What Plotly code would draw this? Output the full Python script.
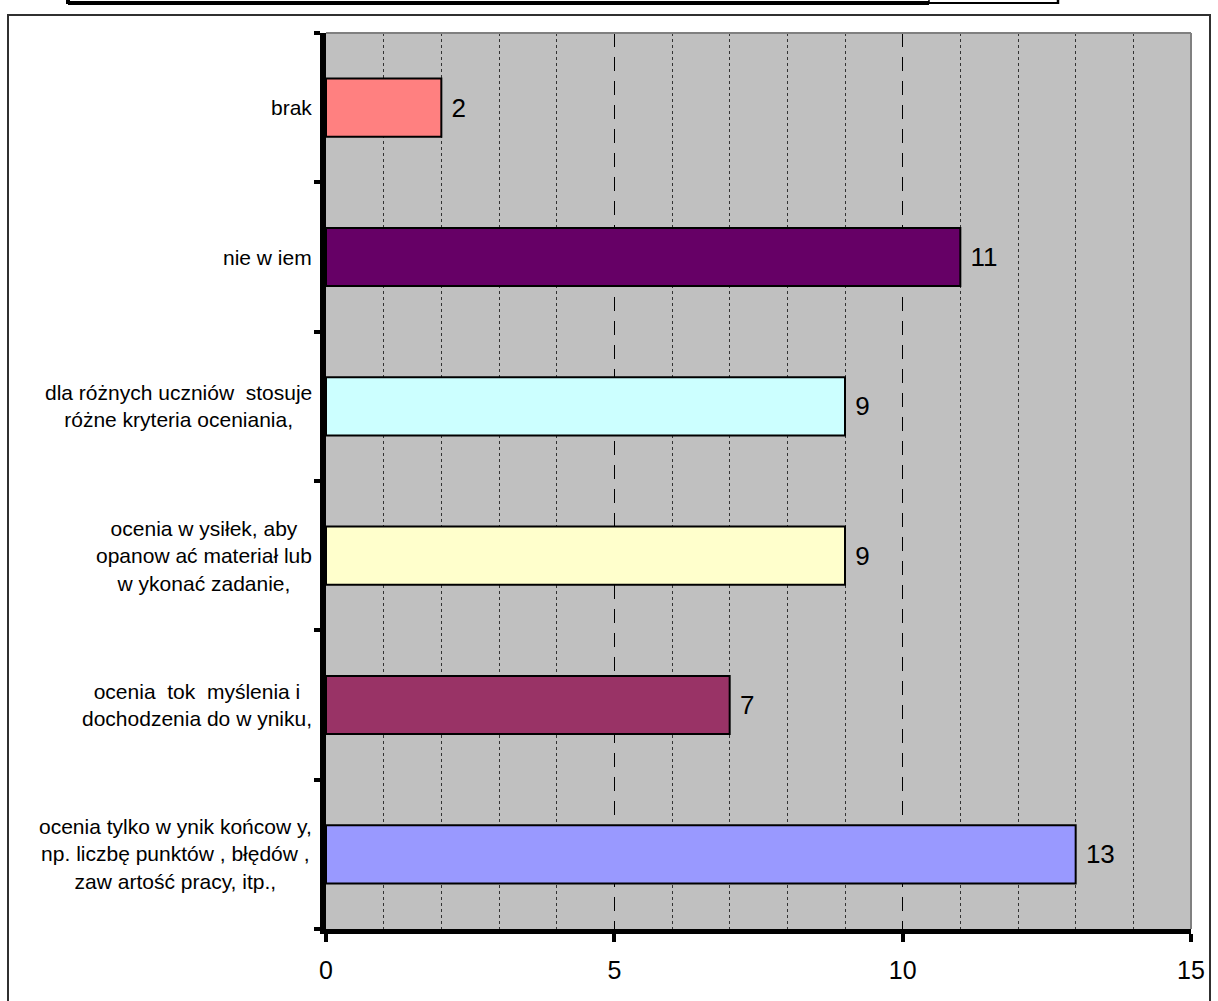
import plotly.graph_objects as go

# ---- data ----
categories = [
    "ocenia tylko w ynik końcow y,<br>np. liczbę punktów , błędów ,<br>zaw artość pracy, itp.,",
    "ocenia  tok  myślenia i<br>dochodzenia do w yniku,",
    "ocenia w ysiłek, aby<br>opanow ać materiał lub<br>w ykonać zadanie,",
    "dla różnych uczniów  stosuje<br>różne kryteria oceniania,",
    "nie w iem",
    "brak",
]
values = [13, 7, 9, 9, 11, 2]
bar_colors = ["#9999FF", "#993366", "#FFFFCC", "#CCFFFF", "#660066", "#FF8080"]
x_ticks = [0, 5, 10, 15]
x_minor_grid = [1, 2, 3, 4, 6, 7, 8, 9, 11, 12, 13, 14]

W, H = 1218, 1001
L, R, T, B = 326, 1191, 33, 929


def xp(px):
    return (px - L) / (R - L)


def yp(py):
    return (B - py) / (B - T)


FONT = "Liberation Sans, Arial, sans-serif"

fig = go.Figure()
fig.add_trace(go.Bar(
    y=categories, x=values, orientation="h",
    marker=dict(color=bar_colors, line=dict(color="black", width=2)),
    width=0.39,
    text=values, texttemplate="\u00a0%{x}", textposition="outside",
    textfont=dict(size=26, color="black", family=FONT),
    cliponaxis=False, showlegend=False, hoverinfo="skip",
))

annotations = []
for c in categories:
    annotations.append(dict(
        x=xp(314), xref="paper", y=c, yref="y", text=c, showarrow=False,
        xanchor="right", yanchor="middle", align="center",
        font=dict(size=21, color="black", family=FONT),
    ))

shapes = [
    # top and right plot edges (gray)
    dict(type="line", xref="paper", yref="paper", x0=0, x1=1, y0=1, y1=1,
         line=dict(color="#808080", width=2), layer="above"),
    dict(type="line", xref="paper", yref="paper", x0=1, x1=1, y0=0, y1=1,
         line=dict(color="#808080", width=2), layer="above"),
    # outer chart border
    dict(type="rect", xref="paper", yref="paper", x0=xp(8), x1=xp(1210),
         y0=yp(1010), y1=yp(15), line=dict(color="#303030", width=2),
         fillcolor="rgba(0,0,0,0)", layer="below"),
    # header box remnants at the top
    dict(type="line", xref="paper", yref="paper", x0=xp(68), x1=xp(929),
         y0=yp(3), y1=yp(3), line=dict(color="black", width=4)),
    dict(type="line", xref="paper", yref="paper", x0=xp(929), x1=xp(1058),
         y0=yp(3), y1=yp(3), line=dict(color="black", width=2)),
    dict(type="line", xref="paper", yref="paper", x0=xp(68), x1=xp(68),
         y0=yp(-5), y1=yp(4), line=dict(color="black", width=4)),
    dict(type="line", xref="paper", yref="paper", x0=xp(929), x1=xp(929),
         y0=yp(-5), y1=yp(4), line=dict(color="black", width=1.5)),
    dict(type="line", xref="paper", yref="paper", x0=xp(1058), x1=xp(1058),
         y0=yp(-5), y1=yp(4), line=dict(color="black", width=2.5)),
]

fig.update_layout(
    width=W, height=H,
    margin=dict(l=L, r=W - R, t=T, b=H - B, pad=0),
    paper_bgcolor="white", plot_bgcolor="#C0C0C0",
    font=dict(family=FONT, color="black"),
    bargap=0.6,
    annotations=annotations, shapes=shapes,
    xaxis=dict(
        range=[0, 15], tickvals=x_ticks, ticks="outside", ticklen=8,
        tickwidth=4, tickcolor="black", showline=True, linecolor="black",
        linewidth=5, zeroline=False,
        showgrid=True, gridcolor="#000000", gridwidth=1, griddash="14px,10px",
        minor=dict(tickvals=x_minor_grid, showgrid=True, gridcolor="#333333",
                   gridwidth=1, griddash="3px,3px", ticks=""),
        tickfont=dict(size=25, color="black", family=FONT),
        ticklabelstandoff=7,
        fixedrange=True,
    ),
    yaxis=dict(
        type="category", categoryorder="array", categoryarray=categories,
        tickson="boundaries", ticks="outside", ticklen=6, tickwidth=4,
        tickcolor="black", showticklabels=False, showgrid=False,
        showline=True, linecolor="black", linewidth=6, zeroline=False,
        range=[-0.5, 5.5], fixedrange=True,
    ),
)

fig.write_html(
    "out.html",
    config={"displayModeBar": False, "staticPlot": True},
    post_script="document.body.style.margin='0';document.body.style.padding='0';",
)
